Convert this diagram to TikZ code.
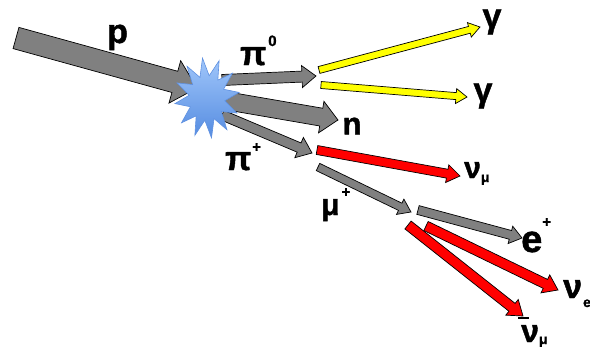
\documentclass[tikz,border=0pt]{standalone}
\usepackage{fontspec}
\setmainfont{Liberation Sans}
\newfontfamily\heavyfont{Liberation Sans Bold}[FakeBold=1.3]
\usepackage{tikz}
\usetikzlibrary{calc,shapes.geometric}

\definecolor{pgray}{RGB}{128,128,128}
\definecolor{pyellow}{RGB}{255,255,0}
\definecolor{pred}{RGB}{255,0,0}
\definecolor{burstlight}{RGB}{160,198,250}
\definecolor{burstdark}{RGB}{85,140,225}
\definecolor{burstedge}{RGB}{95,145,225}

\newcommand{\blockarrow}[6]{%
  \coordinate (neck) at ($(#3)!#6!(#2)$);
  \draw[#1] ($(#2)!#4!90:(#3)$) -- ($(neck)!#4!90:(#3)$) -- ($(neck)!#5!90:(#3)$) -- (#3)
    -- ($(neck)!#5!-90:(#3)$) -- ($(neck)!#4!-90:(#3)$) -- ($(#2)!#4!-90:(#3)$) -- cycle;}
\newcommand{\upsc}[2]{\raisebox{#1}{\fontsize{15}{15}\selectfont\mdseries #2}}
\newcommand{\dnsc}[2]{\raisebox{-#1}{\fontsize{14}{14}\selectfont\mdseries #2}}
\newcommand{\lblsize}[1]{\heavyfont\fontsize{#1}{#1}\selectfont}

\begin{document}
\begin{tikzpicture}[x=1pt,y=-1pt,
  lbl/.style={inner sep=0pt},
  grayarrow/.style={draw=black,line width=0.7pt,fill=pgray},
  yellowarrow/.style={draw=black,line width=0.7pt,fill=pyellow},
  redarrow/.style={draw=black,line width=0.7pt,fill=pred}]
	\useasboundingbox (0,0) rectangle (590,351);
	\coordinate (p-tail) at (16,38);
	\coordinate (p-tip) at (197,88);
	\coordinate (pizero-tail) at (222,80);
	\coordinate (pizero-tip) at (316,76);
	\coordinate (n-tail) at (222,100);
	\coordinate (n-tip) at (338,120);
	\coordinate (piplus-tail) at (222,115);
	\coordinate (piplus-tip) at (312,153);
	\coordinate (gamA-tail) at (319,70);
	\coordinate (gamA-tip) at (480,27);
	\coordinate (gamB-tail) at (321,85);
	\coordinate (gamB-tip) at (467,97);
	\coordinate (numu-tail) at (317,150);
	\coordinate (numu-tip) at (460,176);
	\coordinate (muon-tail) at (318,167);
	\coordinate (muon-tip) at (411,212);
	\coordinate (pos-tail) at (418,210);
	\coordinate (pos-tip) at (522,238);
	\coordinate (nue-tail) at (426,226);
	\coordinate (nue-tip) at (558,290);
	\coordinate (anti-tail) at (408,225);
	\coordinate (anti-tip) at (523,316);
	\blockarrow{grayarrow}{p-tail}{p-tip}{11pt}{22pt}{23pt}
	\blockarrow{grayarrow}{pizero-tail}{pizero-tip}{5.5pt}{11pt}{14pt}
	\blockarrow{grayarrow}{n-tail}{n-tip}{9pt}{16pt}{17pt}
	\blockarrow{grayarrow}{piplus-tail}{piplus-tip}{5pt}{11pt}{14pt}
	\blockarrow{yellowarrow}{gamA-tail}{gamA-tip}{3.5pt}{7.5pt}{11pt}
	\blockarrow{yellowarrow}{gamB-tail}{gamB-tip}{3.5pt}{7.5pt}{11pt}
	\blockarrow{redarrow}{numu-tail}{numu-tip}{4.5pt}{9pt}{13pt}
	\blockarrow{grayarrow}{muon-tail}{muon-tip}{4pt}{8.5pt}{12pt}
	\blockarrow{grayarrow}{pos-tail}{pos-tip}{4.5pt}{9pt}{12pt}
	\blockarrow{redarrow}{nue-tail}{nue-tip}{5pt}{10pt}{14pt}
	\blockarrow{redarrow}{anti-tail}{anti-tip}{5pt}{10pt}{14pt}
	\node [star, star points=12, star point ratio=1.8, minimum size=72pt, inner sep=0pt,
	  xscale=0.9, yscale=1.12, transform shape,
	  shading=axis, top color=burstlight, bottom color=burstdark, draw=burstedge,
	  line width=0.6pt, rotate=8] (burst) at (207,98) {};
	\node [lbl, anchor=base west, font=\lblsize{34}] (plbl) at (107,43) {p};
	\node [lbl, anchor=base west, font=\lblsize{34}] (pizerolbl) at (240,65) {π\hspace{2pt}\upsc{19pt}{0}};
	\node [lbl, anchor=base west, font=\lblsize{34}] (pipluslbl) at (225,170) {π\hspace{1pt}\upsc{18pt}{+}};
	\node [lbl, font=\lblsize{31}] (nlbl) at (352,126) {n};
	\node [lbl, font=\lblsize{34}] (gamAlbl) at (492,22) {γ};
	\node [lbl, font=\lblsize{34}] (gamBlbl) at (483,96) {γ};
	\node [lbl, anchor=base west, font=\lblsize{30}] (numulbl) at (464,178) {ν\dnsc{4pt}{μ}};
	\node [lbl, anchor=base west, font=\lblsize{30}] (muonlbl) at (321,215) {μ\hspace{2pt}\upsc{18pt}{+}};
	\node [lbl, anchor=base west, font=\lblsize{38}] (poslbl) at (521,252) {e\upsc{25pt}{+}};
	\node [lbl, anchor=base west, font=\lblsize{34}] (nuelbl) at (563,298) {ν\hspace{1pt}\dnsc{9pt}{e}};
	\node [lbl, anchor=base west, font=\lblsize{32}] (antilbl) at (521,342) {\rlap{\hspace{-3pt}\raisebox{23pt}{\rule{11pt}{1.8pt}}}ν\dnsc{2pt}{μ}};
\end{tikzpicture}
\end{document}
